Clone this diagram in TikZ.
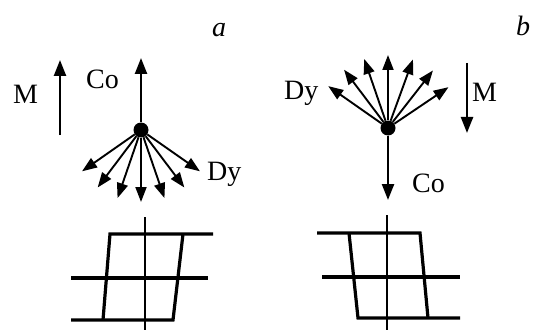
\documentclass[tikz,border=0pt]{standalone}
\usepackage{fontspec}
\setmainfont{Liberation Serif}
\usetikzlibrary{arrows.meta,calc}

\begin{document}
\begin{tikzpicture}[
  x=1pt, y=1pt,
  font=\fontsize{28}{32}\selectfont,
  lbl/.style={anchor=base west, inner sep=0pt},
  spot/.style={circle, fill, inner sep=0pt, minimum size=15pt},
  main/.style={-{Triangle[length=16pt,width=12pt]}, line width=2.4pt},
  ray/.style={-{Triangle[length=15pt,width=11pt]}, line width=1.9pt},
  loopline/.style={line width=3.2pt},
  axisline/.style={line width=2.8pt}]
\useasboundingbox (0,0) rectangle (533,330);
% panel a
\node[lbl] (la) at (212,293) {\itshape a};
\node[spot] (sa) at (141,200) {};
\coordinate (coa) at (141,272);
\draw[main] (sa) -- (coa);
\coordinate (ma0) at (60,195);
\coordinate (ma1) at (60,270);
\draw[main] (ma0) -- (ma1);
\node[lbl] (ma) at (13,226) {M};
\node[lbl] (ca) at (86,241) {Co};
\node[lbl] (da) at (207,150) {Dy};
\foreach \ang [count=\i] in {-145,-127,-109,-90,-71,-53,-35}{
  \coordinate (ta\i) at ($(sa)+(\ang:72pt)$);
  \draw[ray] (sa) -- (ta\i);
}
% loop a
\draw[axisline] (145,113) -- (145,0);
\draw[loopline] (71,52) -- (208,52);
\draw[loopline] (213,96) -- (110,96) -- (103,10);
\draw[loopline] (71,10) -- (173,10) -- (183,96);
% panel b
\node[lbl] (lb) at (516,294) {\itshape b};
\node[spot] (sb) at (388,202) {};
\coordinate (cob) at (388,130);
\draw[main] (sb) -- (cob);
\coordinate (mb0) at (467,267);
\coordinate (mb1) at (467,197);
\draw[main] (mb0) -- (mb1);
\node[lbl] (mb) at (472,229) {M};
\node[lbl] (cb) at (412,138) {Co};
\node[lbl] (db) at (284,230) {Dy};
\foreach \ang [count=\i] in {145,127,109,90,70,52,34}{
  \coordinate (tb\i) at ($(sb)+(\ang:73pt)$);
  \draw[ray] (sb) -- (tb\i);
}
% loop b
\draw[axisline] (387,115) -- (387,0);
\draw[loopline] (322,53) -- (460,53);
\draw[loopline] (317,97) -- (420,97) -- (428,12);
\draw[loopline] (349,97) -- (358,12) -- (460,12);
\end{tikzpicture}
\end{document}
